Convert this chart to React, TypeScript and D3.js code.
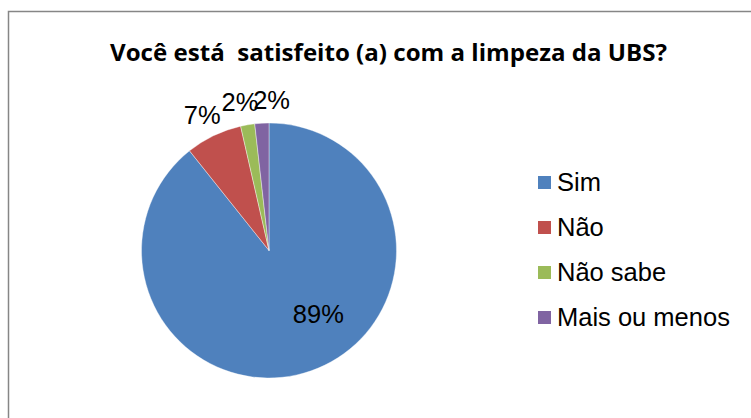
import React from "react";
import * as d3 from "d3";

const title = "Você está\u00A0 satisfeito (a) com a limpeza da UBS?";
const categories = ["Sim", "Não", "Não sabe", "Mais ou menos"];
const counts = [50, 4, 1, 1];
const percentLabels = ["89%", "7%", "2%", "2%"];
const colors = ["#4F81BD", "#C0504D", "#9BBB59", "#8064A2"];
const labelNudgeX = [27, -2, -4, 11];

export default function App() {
  const W = 751;
  const H = 418;
  const cx = 269;
  const cy = 250.5;
  const r = 127.5;

  const pie = d3.pie<number>().sort(null).value((d) => d).startAngle(0).endAngle(2 * Math.PI);
  const arcs = pie(counts);
  const arc = d3.arc<d3.PieArcDatum<number>>().innerRadius(0).outerRadius(r);

  const fontSans = "'Liberation Sans', Arial, sans-serif";
  const fs = 25.5;

  const legendX = 538;
  const legendY0 = 176;
  const legendStep = 45;
  const sq = 13;

  return (
    <svg width={W} height={H} style={{ position: "absolute", left: 0, top: 0, display: "block" }}>
      <rect x={0} y={0} width={W} height={H} fill="#fff" />
      <rect x={8.5} y={11.5} width={W + 20} height={H + 20} fill="#fff" stroke="#868686" strokeWidth={1.5} />
      <text
        x={388.5}
        y={61}
        textAnchor="middle"
        fontFamily="'Open Sans', sans-serif"
        fontWeight="bold"
        fontSize={23}
        textLength={557}
        lengthAdjust="spacingAndGlyphs"
        fill="#000"
        style={{ whiteSpace: "pre" }}
      >
        {title}
      </text>
      <g transform={`translate(${cx},${cy})`}>
        {arcs.map((a, i) => (
          <path key={i} d={arc(a) || ""} fill={colors[i]} stroke="#fff" strokeWidth={0.4} />
        ))}
      </g>
      {arcs.map((a, i) => {
        const mid = (a.startAngle + a.endAngle) / 2;
        if (i === 0) {
          const rr = r * 0.53;
          const x = cx + Math.sin(mid) * rr + labelNudgeX[i];
          const y = cy - Math.cos(mid) * rr;
          return (
            <text key={i} x={x} y={y + 9} textAnchor="middle" fontFamily={fontSans} fontSize={fs} fill="#000">
              {percentLabels[i]}
            </text>
          );
        }
        const lr = r + 22;
        const x = cx + Math.sin(mid) * lr + labelNudgeX[i];
        const y = cy - Math.cos(mid) * lr;
        return (
          <text key={i} x={x} y={y + 8} textAnchor="middle" fontFamily={fontSans} fontSize={fs} fill="#000">
            {percentLabels[i]}
          </text>
        );
      })}
      {categories.map((c, i) => (
        <g key={c}>
          <rect x={legendX} y={legendY0 + i * legendStep} width={sq} height={sq} fill={colors[i]} />
          <text
            x={557}
            y={legendY0 + i * legendStep + 15}
            fontFamily={fontSans}
            fontSize={fs}
            fill="#000"
          >
            {c}
          </text>
        </g>
      ))}
    </svg>
  );
}
